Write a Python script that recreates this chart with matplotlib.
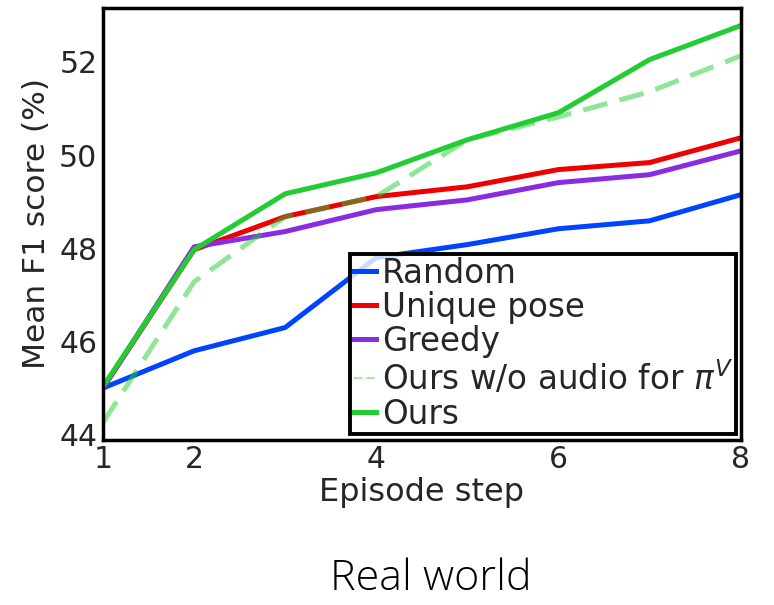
import matplotlib
matplotlib.use("Agg")
import matplotlib.pyplot as plt
from matplotlib import font_manager

names = {f.name for f in font_manager.fontManager.ttflist}
title_font = "Open Sans" if "Open Sans" in names else "DejaVu Sans"

steps = [1, 2, 3, 4, 5, 6, 7, 8]
random_f1 = [45.0, 45.80, 46.30, 47.80, 48.08, 48.42, 48.59, 49.15]
unique_pose = [45.0, 47.97, 48.68, 49.11, 49.32, 49.69, 49.84, 50.37]
greedy = [45.0, 48.03, 48.36, 48.83, 49.04, 49.41, 49.58, 50.09]
ours_no_audio = [44.26, 47.28, 48.68, 49.11, 50.33, 50.82, 51.36, 52.13]
ours = [45.03, 47.97, 49.17, 49.62, 50.33, 50.91, 52.05, 52.78]

xticks = [1, 2, 4, 6, 8]
yticks = [44, 46, 48, 50, 52]

plt.rcParams["font.family"] = "DejaVu Sans"
fig = plt.figure(figsize=(7.74, 6.05), dpi=100)
ax = fig.add_axes([0.133, 0.273, 0.824, 0.714])

lw = 3.6
ax.plot(steps, random_f1, color="#0044ff", lw=lw, label="Random")
ax.plot(steps, unique_pose, color="#ee0000", lw=lw, label="Unique pose")
ax.plot(steps, greedy, color="#8a2be2", lw=lw, label="Greedy")
ax.plot(steps, ours_no_audio, color="#22cc33", lw=lw, alpha=0.5,
        dashes=(5, 2.5), label=r"Ours w/o audio for $\pi^V$")
ax.plot(steps, ours, color="#22cc33", lw=lw, label="Ours")

ax.set_xlim(1, 8)
ax.set_ylim(43.89, 53.16)
ax.set_xticks(xticks)
ax.set_yticks(yticks)
ax.tick_params(length=0, labelsize=21.5, labelcolor="#262626", pad=4)
for s in ax.spines.values():
    s.set_linewidth(2.5)
    s.set_color("black")

ax.set_xlabel("Episode step", fontsize=23, color="#262626", labelpad=2)
ax.set_ylabel("Mean F1 score (%)", fontsize=22.5, color="#262626", labelpad=6)

leg = ax.legend(loc="lower right", bbox_to_anchor=(0.993, 0.014), borderaxespad=0,
                fontsize=23.5, handlelength=0.68, handletextpad=0.18, labelspacing=0.03,
                borderpad=0.1, fancybox=False)
frame = leg.get_frame()
frame.set_alpha(None)
frame.set_facecolor((1, 1, 1, 0.8))
frame.set_edgecolor("black")
frame.set_linewidth(2.8)
for t in leg.get_texts():
    t.set_color("#262626")
leg.get_lines()[3].set_linewidth(1.2)

fig.text(0.557, 0.043, "Real world", ha="center", va="center", fontsize=31,
         family=title_font, fontweight="light", color="black")

fig.savefig("out.png", dpi=100)
